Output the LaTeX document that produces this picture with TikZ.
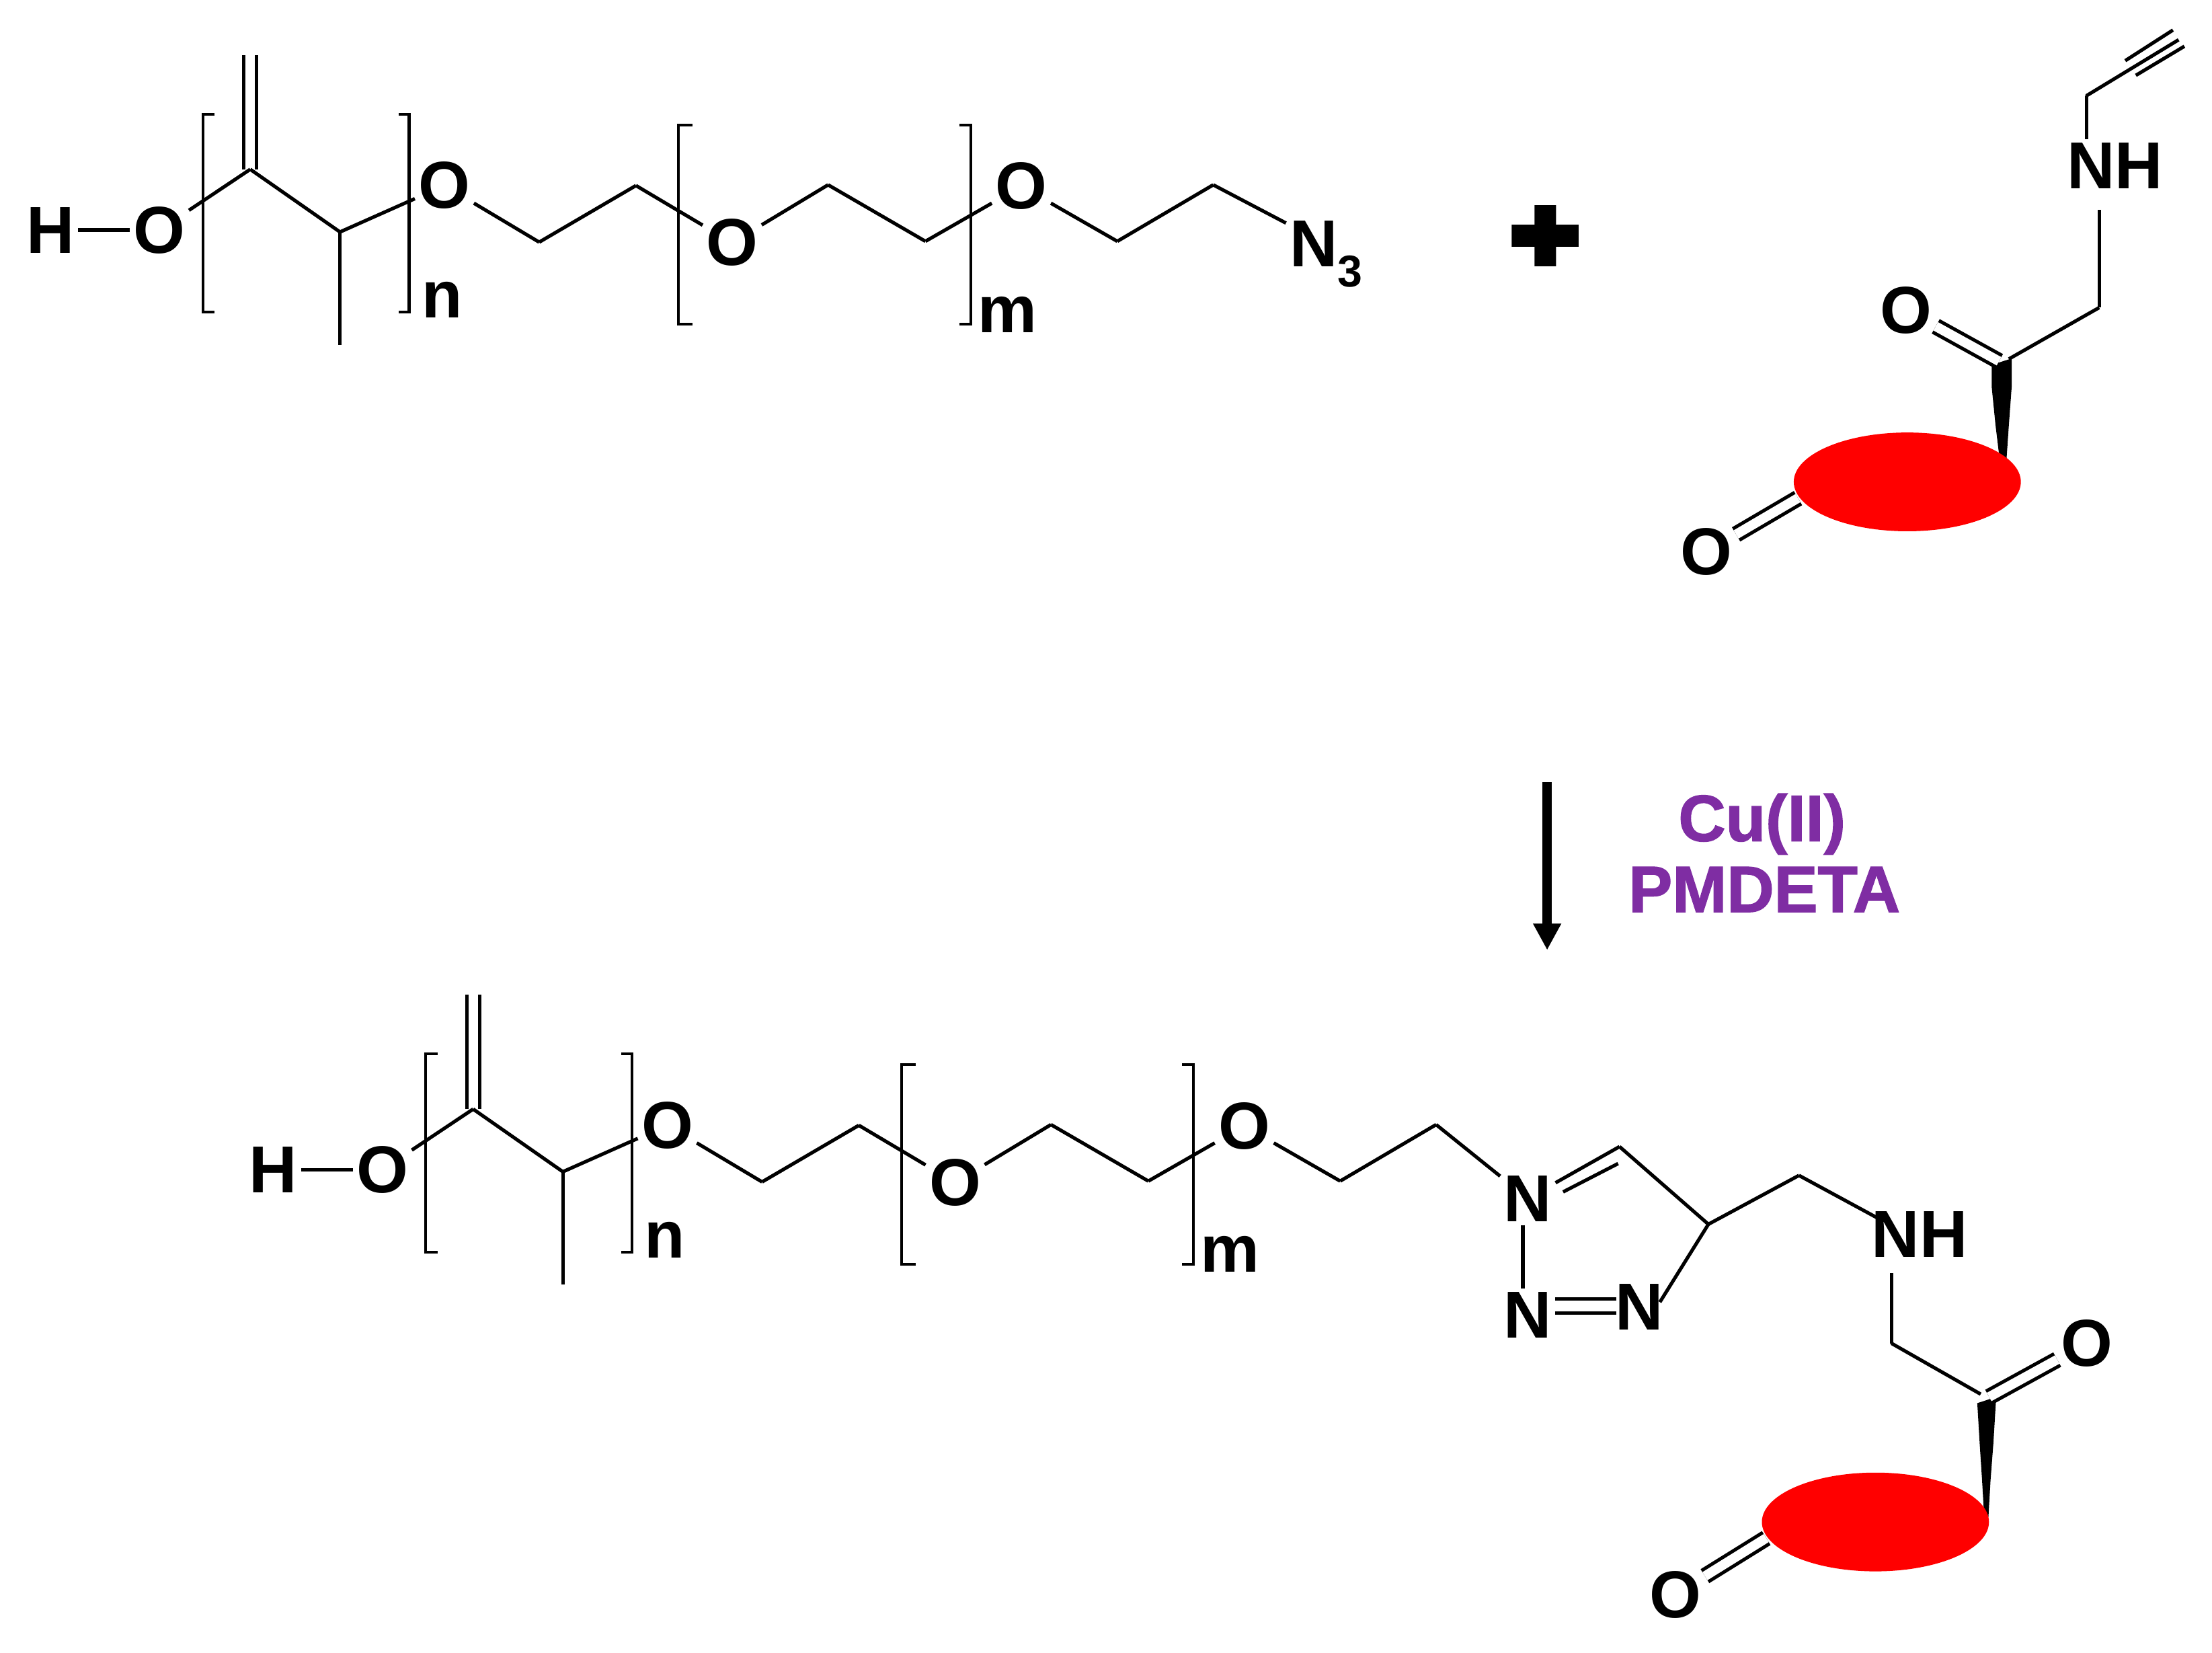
\documentclass[tikz,border=0pt]{standalone}
\usepackage{fontspec}
\setmainfont{Liberation Sans}
\newfontfamily\reagentfont[FakeBold=1.5]{Liberation Sans Bold}
\usetikzlibrary{arrows.meta,shapes.geometric,backgrounds}
\definecolor{reagent}{HTML}{7F2DA3}
\tikzset{
  atom/.style={font=\fontsize{26.8}{28}\selectfont\bfseries, inner sep=1.5pt, outer sep=0pt},
  bond/.style={line width=1.4pt, line join=round},
  dbl/.style={bond, double, double distance=0.135cm},
  brk/.style={line width=1.1pt},
  ring/.style={ellipse, fill=red, draw=none, minimum width=3.22cm, minimum height=1.4cm, inner sep=0pt},
  reagent/.style={font=\fontsize{26.4}{28}\reagentfont, text=reagent, inner sep=0pt},
}
% the polymer chain, used for starting material and product
\newcommand{\polychain}[3]{%
  \begin{scope}[shift={(#1,#2)}, name prefix=#3-]
    \node (H) [atom] at (35.8,163) {H};
    \node (Oa) [atom] at (113,163) {O};
    \node (Ob) [atom] at (315,131.5) {O};
    \node (Oc) [atom] at (519,172) {O};
    \node (Od) [atom] at (724,132) {O};
    \node (n) [atom, anchor=base] at (313.3,225.3) {n};
    \node (m) [atom, anchor=base] at (714,235.5) {m};
    \coordinate (c1) at (177.4,120);
    \coordinate (c2) at (241,164.4);
    \coordinate (me) at (241,244.4);
    \coordinate (vin) at (177.4,38.9);
    \coordinate (c3) at (382.2,171.6);
    \coordinate (c4) at (450.8,131.5);
    \coordinate (c5) at (587,131);
    \coordinate (c6) at (656,171);
    \coordinate (c7) at (792,171);
    \coordinate (c8) at (860,131);
    \draw[dbl] (c1) to (vin);
    \draw[bond] (H) to (Oa);
    \draw[bond] (Oa) to (c1);
    \draw[bond] (c1) to (c2);
    \draw[bond] (c2) to (me);
    \draw[bond] (c2) to (Ob);
    \draw[bond] (Ob) to (c3);
    \draw[bond] (c3) to (c4);
    \draw[bond] (c4) to (Oc);
    \draw[bond] (Oc) to (c5);
    \draw[bond] (c5) to (c6);
    \draw[bond] (c6) to (Od);
    \draw[bond] (Od) to (c7);
    \draw[bond] (c7) to (c8);
    \draw[brk] (152.2,81) -- (143.8,81) -- (143.8,221.3) -- (152.2,221.3);
    \draw[brk] (282.6,81) -- (290,81) -- (290,221.3) -- (282.6,221.3);
    \draw[brk] (491,88.6) -- (480.9,88.6) -- (480.9,229.9) -- (491,229.9);
    \draw[brk] (680,88.6) -- (688,88.6) -- (688,229.9) -- (680,229.9);
  \end{scope}}
\begin{document}
\begin{tikzpicture}[x=0.02cm, y=-0.02cm]
  \useasboundingbox (0,0) rectangle (1568,1171);

  % starting material
  \polychain{0}{0}{top}
  \node (Nthree) [atom] at (940,173) {N\smash{\raisebox{-0.3em}{\fontsize{18}{18}\selectfont 3}}};
  \draw[bond] (top-c8) to (Nthree);

  % plus sign
  \fill (1071.5,159.2) -- (1087.7,159.2) -- (1087.7,145.4) -- (1103,145.4) -- (1103,159.2) -- (1119,159.2)
     -- (1119,174.9) -- (1103,174.9) -- (1103,188.7) -- (1087.7,188.7) -- (1087.7,174.9) -- (1071.5,174.9) -- cycle;

  % alkyne partner
  \node (blobA) [ring] at (1352,341.5) {};
  \node (NHa) [atom] at (1499.2,117.6) {NH};
  \node (Oe) [atom] at (1351.2,219.7) {O};
  \node (Of) [atom] at (1209.7,391) {O};
  \coordinate (a1) at (1478.9,67.9);
  \coordinate (a2) at (1544.3,28.2);
  \coordinate (a2u) at (1540.3,21.3);
  \coordinate (a1u) at (1506.5,43);
  \coordinate (a2l) at (1548.4,32.8);
  \coordinate (a1l) at (1514,53.4);
  \coordinate (a3) at (1488,218);
  \coordinate (a4) at (1424,254.4);
  \coordinate (a4d) at (1417,256);
  \coordinate (a5) at (1274.5,353);
  \draw[bond] (a1) to (a2);
  \draw[bond] (a1u) to (a2u);
  \draw[bond] (a1l) to (a2l);
  \draw[bond] (a1) to (a1 |- NHa.north);
  \draw[bond, shorten <=7pt] (a3 |- NHa.south) to (a3);
  \draw[dbl] (Oe) to (a4d);
  \draw[bond] (a3) to (a4);
  \begin{scope}[on background layer]
    \draw[dbl] (Of) to (a5);
    \fill (1411.8,258.6) -- (1426,254) -- (1426,274) -- (1424,301) -- (1422,330)
       -- (1418,330) -- (1414.5,301) -- (1411.8,274) -- cycle;
  \end{scope}

  % reaction arrow
  \coordinate (arrowA) at (1096.7,554.5);
  \coordinate (arrowB) at (1096.7,673.3);
  \draw[line width=0.128cm, -{Triangle[width=0.374cm, length=0.376cm]}] (arrowA) to (arrowB);
  \node (cu) [reagent, anchor=base] at (1249,596) {Cu(II)};
  \node (pmdeta) [reagent, anchor=base] at (1250.7,646.3) {PMDETA};

  % product
  \polychain{158}{666}{bot}
  \node (Na) [atom] at (1083,849.3) {N};
  \node (Nb) [atom] at (1083,932) {N};
  \node (Nc) [atom] at (1162.2,926.2) {N};
  \node (NHb) [atom] at (1360.8,874.6) {NH};
  \node (Og) [atom] at (1479.2,952) {O};
  \node (Oh) [atom] at (1187.6,1130) {O};
  \node (blobB) [ring] at (1329.4,1078.6) {};
  \coordinate (t4) at (1148,812.6);
  \coordinate (t5) at (1211,867.6);
  \coordinate (t5n) at (1176.6,922.8);
  \coordinate (t6) at (1275.2,833);
  \coordinate (t7) at (1330.4,862.9);
  \coordinate (t8) at (1340.8,952);
  \coordinate (t9) at (1404,988);
  \coordinate (t9d) at (1410,990);
  \coordinate (t10) at (1252,1090);
  \coordinate (inA) at (1108,844.7);
  \coordinate (inB) at (1147,824.6);
  \coordinate (nnA) at (1102.3,920.5);
  \coordinate (nnB) at (1145.5,920.5);
  \coordinate (nnC) at (1102.3,930.6);
  \coordinate (nnD) at (1145.5,930.6);
  \draw[bond] (bot-c8) to (Na);
  \draw[bond] (Na) to (t4);
  \draw[bond] (inA) to (inB);
  \draw[bond] (t4) to (t5);
  \draw[bond] (t5) to (t5n);
  \draw[bond] (nnA) to (nnB);
  \draw[bond] (nnC) to (nnD);
  \draw[bond] ([xshift=-0.07cm]Na.south) to ([xshift=-0.07cm]Nb.north);
  \draw[bond] (t5) to (t6);
  \draw[bond] (t6) to (t7);
  \draw[bond, shorten <=5pt] (t8 |- NHb.south) to (t8);
  \draw[dbl] (Og) to (t9d);
  \draw[bond] (t8) to (t9);
  \begin{scope}[on background layer]
    \draw[dbl] (Oh) to (t10);
    \fill (1401.6,994.4) -- (1415,990) -- (1413,1023) -- (1411,1049) -- (1409.5,1075)
       -- (1406.5,1075) -- (1405,1049) -- (1403.3,1023) -- cycle;
  \end{scope}
\end{tikzpicture}
\end{document}
